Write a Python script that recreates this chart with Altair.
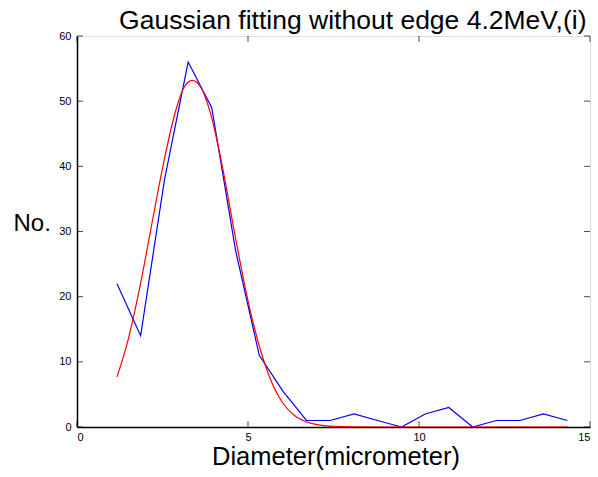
import altair as alt
import pandas as pd

# measured histogram (blue)
blue_x = [1.17, 1.86, 2.56, 3.25, 3.94, 4.64, 5.33, 6.02, 6.71, 7.40, 8.10, 8.79,
          9.49, 10.18, 10.87, 11.57, 12.26, 12.95, 13.64, 14.34]
blue_y = [22, 14, 38, 56, 49, 27, 11, 5.5, 1, 1, 2, 1, 0, 2, 3, 0, 1, 1, 2, 1]

# gaussian fit (red)
fit_x = [1.17, 1.5, 1.85, 2.2, 2.55, 2.9, 3.15, 3.37, 3.6, 3.9, 4.25, 4.6, 4.95,
         5.3, 5.65, 6.0, 6.35, 6.7, 7.1, 7.5, 8.0, 9.0, 10.0, 11.0, 12.0, 13.0, 14.34]
fit_y = [7.7, 13.5, 21.8, 31.5, 41.0, 48.8, 52.3, 53.2, 52.3, 48.2, 40.0, 30.0, 20.6,
         13.0, 7.4, 3.8, 1.8, 0.8, 0.3, 0.1, 0.02, 0, 0, 0, 0, 0, 0]

x_ticks = [0, 5, 10, 15]
y_ticks = [0, 10, 20, 30, 40, 50, 60]

W, H = 513, 391
FONT = "Liberation Sans"

blue = pd.DataFrame({"x": blue_x, "y": blue_y})
red = pd.DataFrame({"x": fit_x, "y": fit_y})
xt = pd.DataFrame({"x": x_ticks})
yt = pd.DataFrame({"y": y_ticks})

xs = alt.Scale(domain=[0, 15], nice=False, zero=False)
ys = alt.Scale(domain=[0, 60], nice=False)

xax = alt.Axis(values=x_ticks, ticks=False, grid=False, labelFont=FONT, labelFontSize=11,
               labelColor="black", labelPadding=4, domainColor="black", domainWidth=1.5,
               title="Diameter(micrometer)", titleFont=FONT, titleFontSize=25.5,
               titleFontWeight="normal", titleColor="black", titleBaseline="alphabetic",
               titleY=37, titleX=W / 2 + 2)
yax = alt.Axis(values=y_ticks, ticks=False, grid=False, labelFont=FONT, labelFontSize=11,
               labelColor="black", labelPadding=6, domainColor="black", domainWidth=1.5,
               title="No.", titleFont=FONT, titleFontSize=24, titleFontWeight="normal",
               titleColor="black", titleAngle=0, titleAlign="left", titleBaseline="alphabetic",
               titleX=-64, titleY=194)

blue_line = alt.Chart(blue).mark_line(color="#0000FF", strokeWidth=1.2, clip=True).encode(
    x=alt.X("x:Q", scale=xs, axis=xax),
    y=alt.Y("y:Q", scale=ys, axis=yax),
)
red_line = alt.Chart(red).mark_line(color="#FF0000", strokeWidth=1.2, clip=True,
                                     interpolate="monotone").encode(
    x=alt.X("x:Q", scale=xs),
    y=alt.Y("y:Q", scale=ys),
)

tick_style = dict(color="black", thickness=1, size=6)
xt_bot = alt.Chart(xt).mark_tick(**tick_style).encode(x=alt.X("x:Q", scale=xs), y=alt.value(H - 3))
xt_top = alt.Chart(xt).mark_tick(**tick_style).encode(x=alt.X("x:Q", scale=xs), y=alt.value(3))
yt_l = alt.Chart(yt).mark_tick(**tick_style).encode(y=alt.Y("y:Q", scale=ys), x=alt.value(3))
yt_r = alt.Chart(yt).mark_tick(**tick_style).encode(y=alt.Y("y:Q", scale=ys), x=alt.value(W - 3))

chart = alt.layer(blue_line, red_line, xt_bot, xt_top, yt_l, yt_r).properties(
    width=W, height=H,
    title=alt.TitleParams("Gaussian fitting without edge 4.2MeV,(i)", anchor="end",
                          font=FONT, fontSize=26.5, fontWeight="normal", color="black",
                          offset=0, dy=4, dx=-4),
    autosize=alt.AutoSizeParams(type="none"),
    padding={"left": 77, "top": 36, "right": 8, "bottom": 50},
).configure_view(stroke="black", strokeWidth=1.5).configure(background="white")

chart.save("out.html", embed_options={"renderer": "svg", "actions": False})
